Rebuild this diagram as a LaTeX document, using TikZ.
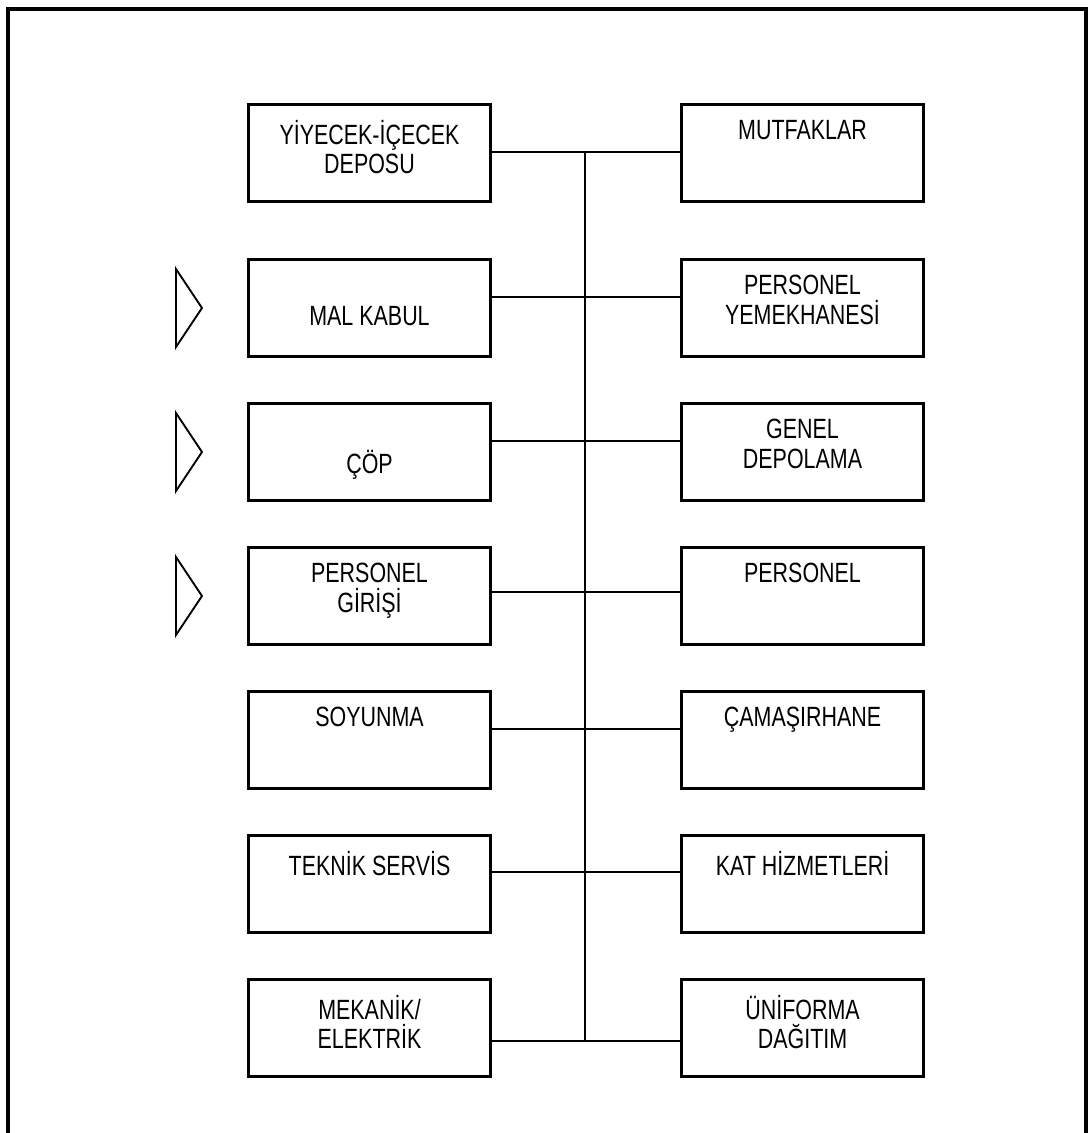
\documentclass[tikz,border=0pt]{standalone}
\usepackage{fontspec}
\setmainfont{Liberation Sans}[FakeStretch=0.77]
\tikzset{
  box/.style={draw, line width=2.1pt, minimum width=6.05cm, minimum height=2.42cm,
    inner sep=0pt, anchor=north west},
  lbl/.style={anchor=north, align=center, inner sep=0pt, yshift=-0.42cm,
    font=\fontsize{19.8pt}{21pt}\selectfont},
  conn/.style={line width=1.1pt},
  gate/.style={line width=1.3pt, line join=miter}
}
\begin{document}
\begin{tikzpicture}[x=0.025cm,y=-0.025cm]
  \useasboundingbox (0,0) rectangle (1088,1133);
  \clip (0,0) rectangle (1088,1133);
  % outer frame
  \draw[line width=2.3pt] (8,1180) -- (8,9) -- (1086,9) -- (1086,1180);
  % boxes and connectors
  \foreach \t/\c/\lt/\rt [count=\i] in {
    103/152/{YİYECEK-İÇECEK\\DEPOSU}/{MUTFAKLAR},
    258/297/{\strut\\MAL KABUL}/{PERSONEL\\YEMEKHANESİ},
    402/441/{\strut\\ÇÖP}/{GENEL\\DEPOLAMA},
    546/592/{PERSONEL\\GİRİŞİ}/{PERSONEL},
    690/729/{SOYUNMA}/{ÇAMAŞIRHANE},
    834/872/{TEKNİK SERVİS}/{KAT HİZMETLERİ},
    978/1041/{MEKANİK/\\ELEKTRİK}/{ÜNİFORMA\\DAĞITIM}}
  {
    \node[box, label={[lbl]north:\lt}] (l\i) at (247,\t) {};
    \node[box, label={[lbl]north:\rt}] (r\i) at (680,\t) {};
    \coordinate (c\i) at (585,\c);
    \draw[conn] (l\i.east |- c\i) -- (r\i.west |- c\i);
  }
  \draw[conn] (c1) -- (c7);
  % entrances
  \foreach \t in {269,413,557}
    \draw[gate] (176,\t) -- (202,\t+39) -- (176,\t+78) -- cycle;
\end{tikzpicture}
\end{document}
